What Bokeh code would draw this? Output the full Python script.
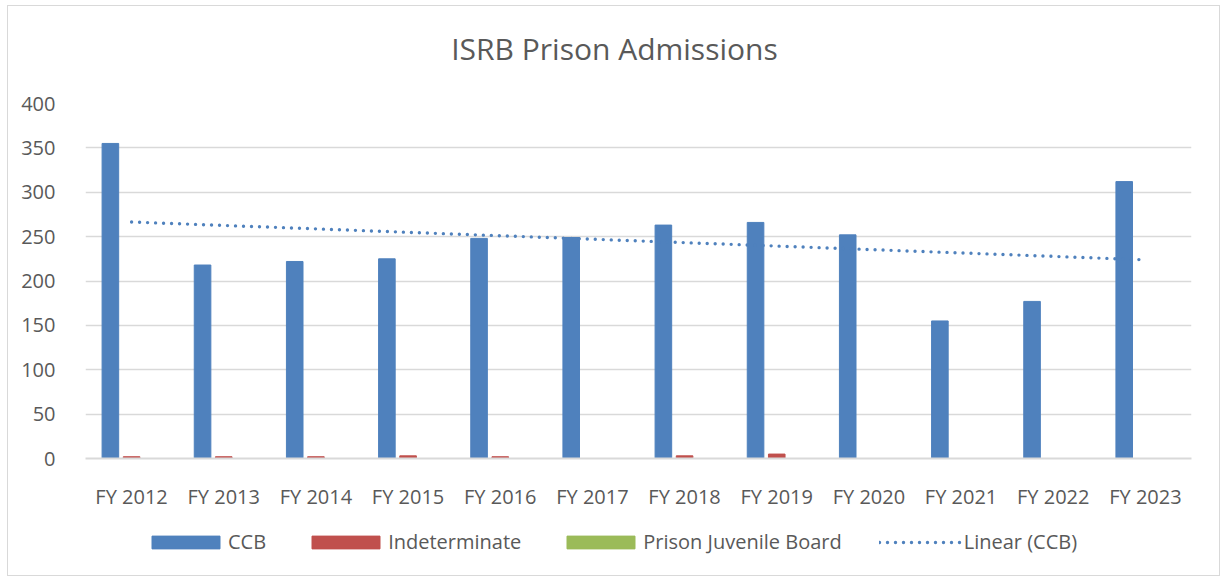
import numpy as np
from bokeh.plotting import figure
from bokeh.layouts import column
from bokeh.models import (ColumnDataSource, FactorRange, FixedTicker, Legend, LegendItem,
                          Label, Range1d)
from bokeh.transform import dodge
from bokeh.embed import file_html
from bokeh.resources import INLINE

categories = ["FY 2012", "FY 2013", "FY 2014", "FY 2015", "FY 2016", "FY 2017",
              "FY 2018", "FY 2019", "FY 2020", "FY 2021", "FY 2022", "FY 2023"]
ccb = [355, 218, 222, 225, 248, 249, 263, 266, 252, 155, 177, 312]
indeterminate = [2, 2, 2, 3, 2, 0, 3, 5, 0, 0, 0, 0]
juvenile_board = [0, 0, 0, 0, 0, 0, 0, 0, 0, 0, 0, 0]
y_ticks = [0, 50, 100, 150, 200, 250, 300, 350, 400]
title_text = "ISRB Prison Admissions"
series_names = ["CCB", "Indeterminate", "Prison Juvenile Board", "Linear (CCB)"]

# linear trendline of CCB (least squares over category index)
idx = np.arange(1, len(ccb) + 1)
slope, intercept = np.polyfit(idx, ccb, 1)
trend = list(slope * idx + intercept)

source = ColumnDataSource(dict(cat=categories, ccb=ccb, ind=indeterminate,
                               juv=juvenile_board, trend=trend))

FONT = "Open Sans"
TXT = "#595959"
GRID = "#d9d9d9"
BLUE, RED, GREEN = "#4F81BD", "#C0504D", "#9BBB59"
FW = 1106


def strip(height):
    s = figure(frame_width=FW, frame_height=height, x_range=Range1d(0, FW),
               y_range=Range1d(0, height),
               min_border_left=77, min_border_right=28, min_border_top=0, min_border_bottom=0,
               output_backend="svg", toolbar_location=None, tools="",
               x_axis_location=None, y_axis_location=None)
    s.outline_line_color = None
    s.grid.grid_line_color = None
    s.border_fill_color = "white"
    return s


# title strip
ts = strip(70)
ts.add_layout(Label(x=529, y=28, text=title_text, text_font=FONT, text_font_size="30px",
                    text_color=TXT, text_align="center", text_baseline="middle"))

# main chart
p = figure(x_range=FactorRange(*categories, range_padding=0), y_range=(0, 400),
           frame_width=FW, frame_height=355,
           min_border_left=77, min_border_right=28, min_border_top=27, min_border_bottom=62,
           output_backend="svg", toolbar_location=None, tools="")
p.outline_line_color = None
p.background_fill_color = "white"
p.border_fill_color = "white"

w = 0.18
p.vbar(x=dodge("cat", -0.23, range=p.x_range), top="ccb", width=w, source=source,
       fill_color=BLUE, line_color=BLUE)
p.vbar(x=dodge("cat", 0.0, range=p.x_range), top="ind", width=w, source=source,
       fill_color=RED, line_color=RED)
p.vbar(x=dodge("cat", 0.23, range=p.x_range), top="juv", width=w, source=source,
       fill_color=GREEN, line_color=None)
p.line(x="cat", y="trend", source=source, line_color=BLUE, line_width=3.4,
       line_dash="0 8", line_cap="round")

p.xgrid.grid_line_color = None
p.ygrid.grid_line_color = GRID
p.ygrid.grid_line_width = 1.5
p.yaxis.ticker = FixedTicker(ticks=y_ticks)

for ax in (p.xaxis[0], p.yaxis[0]):
    ax.major_tick_line_color = None
    ax.minor_tick_line_color = None
    ax.major_label_text_font = FONT
    ax.major_label_text_font_size = "20px"
    ax.major_label_text_color = TXT
p.yaxis.axis_line_color = None
p.yaxis.major_label_standoff = 24
p.xaxis.axis_line_color = GRID
p.xaxis.axis_line_width = 2
p.xaxis.major_label_standoff = 18

# legend strip below the chart (sample glyphs sit outside the strip's visible range)
lg = strip(55)
e_ccb = lg.vbar(x=[-100], top=[-100], width=1, fill_color=BLUE, line_color=BLUE)
e_ind = lg.vbar(x=[-100], top=[-100], width=1, fill_color=RED, line_color=RED)
e_juv = lg.vbar(x=[-100], top=[-100], width=1, fill_color=GREEN, line_color=GREEN)
e_lin = lg.line(x=[-100, -90], y=[-100, -100], line_color=BLUE, line_width=3.4,
                line_dash="0 8", line_cap="round")

legend = Legend(items=[LegendItem(label=n, renderers=[r]) for n, r in
                       zip(series_names, [e_ccb, e_ind, e_juv, e_lin])],
                orientation="horizontal", location=(58, 20))
legend.glyph_width = 85
legend.glyph_height = 16
legend.label_standoff = 0
legend.spacing = 37
legend.padding = 0
legend.margin = 0
legend.border_line_color = None
legend.background_fill_alpha = 0
legend.label_text_font = FONT
legend.label_text_font_size = "20px"
legend.label_text_color = TXT
lg.add_layout(legend, "center")

layout = column(ts, p, lg, spacing=0,
                styles={"border": "1px solid #d9d9d9", "margin-left": "7px", "margin-top": "5px"})

open("out.html", "w").write(file_html(layout, INLINE))
